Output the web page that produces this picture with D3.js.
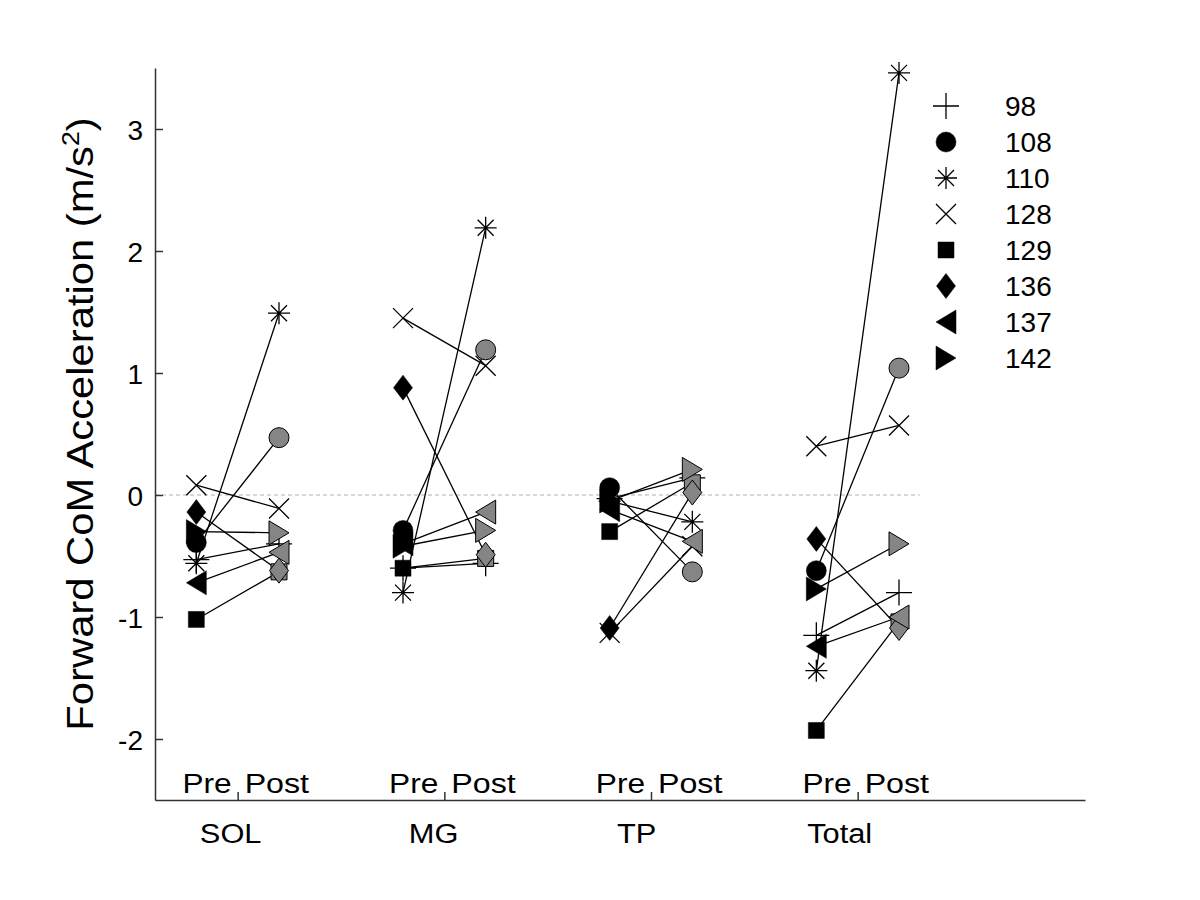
<!DOCTYPE html>
<html>
<head>
<meta charset="utf-8">
<script src="https://cdn.jsdelivr.net/npm/d3@7"></script>
<style>
  body { margin: 0; background: #fff; }
  text { font-family: "Liberation Sans", Arial, sans-serif; }
</style>
</head>
<body>
<svg id="chart" width="1200" height="900"></svg>
<script>
// ---- data ----
const groups = ["SOL", "MG", "TP", "Total"];
const phases = ["Pre", "Post"];
const subjects = ["98", "108", "110", "128", "129", "136", "137", "142"];
const markers = ["plus", "circle", "asterisk", "cross", "square", "diamond", "triLeft", "triRight"];
// values per subject: [pre, post]
const SOL = [[-0.53, -0.40], [-0.39, 0.47], [-0.56, 1.49], [0.08, -0.11], [-1.02, -0.63], [-0.14, -0.62], [-0.72, -0.47], [-0.30, -0.31]];
const MG = [[-0.60, -0.56], [-0.29, 1.19], [-0.80, 2.19], [1.45, 1.06], [-0.60, -0.52], [0.88, -0.49], [-0.40, -0.14], [-0.42, -0.29]];
const TP = [[-0.03, 0.14], [0.06, -0.63], [-0.05, -0.22], [-1.13, -0.42], [-0.30, 0.10], [-1.09, 0.02], [-0.12, -0.38], [-0.05, 0.21]];
const Total = [[-1.15, -0.80], [-0.62, 1.04], [-1.44, 3.46], [0.40, 0.57], [-1.93, -1.04], [-0.36, -1.09], [-1.24, -1.00], [-0.77, -0.40]];
const groupValues = [SOL, MG, TP, Total];
const yTicks = [-2, -1, 0, 1, 2, 3];
const yTitle = "Forward CoM Acceleration (m/s";

// ---- layout ----
const svg = d3.select("#chart");
const x = d3.scaleLinear().domain([0.6, 5.1]).range([155, 1085]);
const y = d3.scaleLinear().domain([-2.5, 3.5]).range([800, 68]);
const offset = 0.2;
const xLab = d3.scaleLinear().domain([1, 4]).range([x(1) - 7, x(4) - 18]);

// zero line
svg.append("line")
  .attr("x1", x(0.6)).attr("x2", x(4.3))
  .attr("y1", y(0)).attr("y2", y(0))
  .attr("stroke", "#b0b0b0").attr("stroke-width", 1)
  .attr("stroke-dasharray", "4,3");

// axes
const yAxis = d3.axisLeft(y).tickValues(yTicks).tickSizeInner(-8).tickSizeOuter(0).tickPadding(12)
  .tickFormat(d3.format("d"));
const gy = svg.append("g").attr("transform", `translate(${x(0.6)},0)`).call(yAxis);
gy.selectAll("text").attr("font-size", 28).attr("fill", "#000").attr("dy", "0.36em")
  .text(d => d < 0 ? "-" + Math.abs(d) : d);
gy.selectAll("path, line").attr("stroke", "#333").attr("stroke-width", 1.5);

const xAxis = d3.axisBottom(x).tickValues([1, 2, 3, 4]).tickSizeInner(-8).tickSizeOuter(0).tickFormat("");
const gx = svg.append("g").attr("transform", `translate(0,${y(-2.5)})`).call(xAxis);
gx.selectAll("path, line").attr("stroke", "#333").attr("stroke-width", 1.5);

// labels
groups.forEach((g, i) => {
  const c = i + 1;
  svg.append("text").attr("x", x(c) - 6).attr("y", 793).attr("text-anchor", "end")
    .attr("font-size", 28).attr("transform", `translate(${x(c) - 6},0) scale(1.13,1) translate(${-(x(c) - 6)},0)`)
    .text(phases[0]);
  svg.append("text").attr("x", x(c) + 7).attr("y", 793).attr("text-anchor", "start")
    .attr("font-size", 28).attr("transform", `translate(${x(c) + 7},0) scale(1.15,1) translate(${-(x(c) + 7)},0)`)
    .text(phases[1]);
  svg.append("text").attr("x", xLab(c)).attr("y", 843).attr("text-anchor", "middle")
    .attr("font-size", 28).attr("transform", `translate(${xLab(c)},0) scale(1.1,1) translate(${-xLab(c)},0)`)
    .text(g);
});

const yt = svg.append("text").attr("transform", "translate(93,424) rotate(-90) scale(1.16,1)")
  .attr("text-anchor", "middle").attr("font-size", 36);
yt.append("tspan").text(yTitle);
yt.append("tspan").attr("font-size", 23).attr("dy", -14).text("2");
yt.append("tspan").attr("dy", 14).text(")");

// ---- marker shapes ----
function markerPath(type) {
  const p = d3.path();
  switch (type) {
    case "plus": p.moveTo(-13, 0); p.lineTo(13, 0); p.moveTo(0, -13); p.lineTo(0, 13); break;
    case "cross": p.moveTo(-10, -10); p.lineTo(10, 10); p.moveTo(-10, 10); p.lineTo(10, -10); break;
    case "asterisk":
      p.moveTo(-11, 0); p.lineTo(11, 0); p.moveTo(0, -11); p.lineTo(0, 11);
      p.moveTo(-8, -8); p.lineTo(8, 8); p.moveTo(-8, 8); p.lineTo(8, -8); break;
    case "circle": p.arc(0, 0, 10, 0, 2 * Math.PI); p.closePath(); break;
    case "square": p.rect(-8, -8, 16, 16); break;
    case "diamond": p.moveTo(0, -12.5); p.lineTo(9.5, 0); p.lineTo(0, 12.5); p.lineTo(-9.5, 0); p.closePath(); break;
    case "triLeft": p.moveTo(-10, 0); p.lineTo(10, -12); p.lineTo(10, 12); p.closePath(); break;
    case "triRight": p.moveTo(10, 0); p.lineTo(-10, -12); p.lineTo(-10, 12); p.closePath(); break;
  }
  return p.toString();
}
const isLine = t => t === "plus" || t === "cross" || t === "asterisk";

function drawMarker(g, type, cx, cy, fill) {
  g.append("path").attr("d", markerPath(type))
    .attr("transform", `translate(${cx},${cy})`)
    .attr("fill", isLine(type) ? "none" : fill)
    .attr("stroke", "#000")
    .attr("stroke-width", isLine(type) ? 1.3 : (fill === "#000" ? 0.5 : 1));
}

// ---- data marks ----
const plot = svg.append("g");
groupValues.forEach((vals, gi) => {
  const c = gi + 1;
  vals.forEach((v, si) => {
    plot.append("line")
      .attr("x1", x(c - offset)).attr("y1", y(v[0]))
      .attr("x2", x(c + offset)).attr("y2", y(v[1]))
      .attr("stroke", "#000").attr("stroke-width", 1.3);
  });
});
groupValues.forEach((vals, gi) => {
  const c = gi + 1;
  vals.forEach((v, si) => {
    drawMarker(plot, markers[si], x(c - offset), y(v[0]), "#000");
    drawMarker(plot, markers[si], x(c + offset), y(v[1]), "#858585");
  });
});

// ---- legend ----
const leg = svg.append("g");
subjects.forEach((s, i) => {
  const ly = 106 + i * 36;
  drawMarker(leg, markers[i], 946, ly, "#000");
  leg.append("text").attr("x", 1005).attr("y", ly).attr("dy", "0.36em")
    .attr("font-size", 28).text(s);
});
</script>
</body>
</html>
